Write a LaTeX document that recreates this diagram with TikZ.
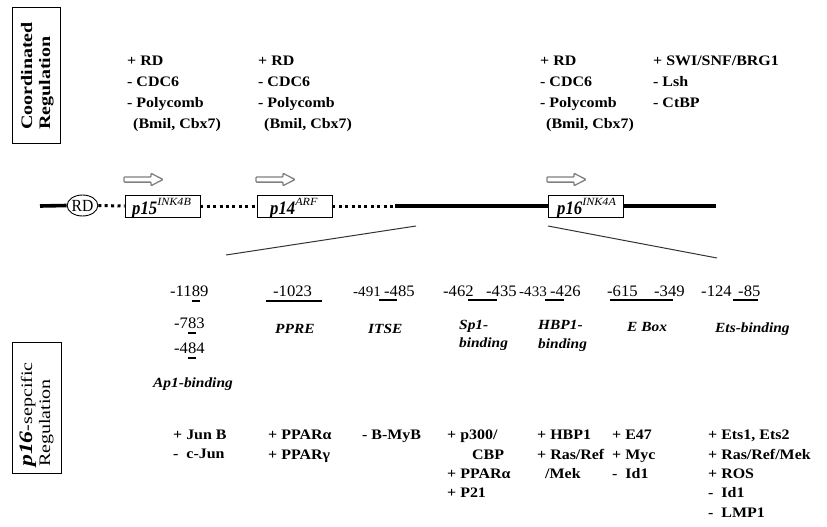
\documentclass[tikz,border=0pt]{standalone}
\usepackage{fontspec}
\setmainfont{Liberation Serif}
\newfontfamily\labfont[FakeStretch=1.1]{Liberation Serif}
\newfontfamily\numfont[FakeStretch=1.04]{Liberation Serif}
\newfontfamily\sidefont[FakeStretch=1.25]{Liberation Serif}
\newfontfamily\genefont[FakeStretch=0.88]{Liberation Serif}
\newfontfamily\rdfont[FakeStretch=0.92]{Liberation Serif}
\usetikzlibrary{shapes.geometric}

\tikzset{
  reglist/.style={inner sep=0, anchor=north west, align=left,
    font=\labfont\bfseries\fontsize{14.5}{21}\selectfont},
  factlist/.style={inner sep=0, anchor=north west, align=left,
    font=\labfont\bfseries\fontsize{14.5}{19.3}\selectfont},
  num/.style={inner sep=0, anchor=base west,
    font=\numfont\fontsize{16}{18}\selectfont},
  numsmall/.style={num, font=\numfont\fontsize{14.5}{18}\selectfont},
  site/.style={inner sep=0, anchor=base west,
    font=\labfont\bfseries\itshape\fontsize{14}{18}\selectfont},
  sitebar/.style={line width=2.2pt},
  sidebox/.style={draw, line width=1pt},
  sidetext/.style={inner sep=0, anchor=base west, rotate=90},
  gene/.style={draw, fill=white, line width=0.9pt, minimum width=75pt,
    minimum height=22pt, inner sep=0},
  genelabel/.style={inner sep=0, anchor=base west,
    font=\genefont\bfseries\itshape\fontsize{19}{20}\selectfont},
  strand/.style={line width=3.6pt},
  dotstrand/.style={line width=3pt, dash pattern=on 3pt off 3.4pt},
  zoomline/.style={line width=1pt, draw=black!80},
  tss/.style={draw=black!50, line width=1.3pt, rounded corners=0.8pt},
  tssarrow/.pic={\draw[tss] (0,-2.6) -- (27,-2.6) -- (27,-6.2) -- (39,0)
    -- (27,6.2) -- (27,2.6) -- (0,2.6) -- cycle;}
}
\newcommand\supfont{\labfont\mdseries\itshape\fontsize{11}{11}\selectfont}

\begin{document}
\begin{tikzpicture}[x=1pt,y=-1pt]
\useasboundingbox (0,0) rectangle (827,527);

% side captions
\node[sidebox, minimum width=48pt, minimum height=135pt, inner sep=0]
  (coordbox) at (36,75.5) {};
\node[sidetext, font=\sidefont\bfseries\fontsize{16}{16}\selectfont]
  (coordA) at (32,130) {Coordinated};
\node[sidetext, font=\sidefont\bfseries\fontsize{16}{16}\selectfont]
  (coordB) at (50,130) {Regulation};

\node[sidebox, minimum width=49pt, minimum height=131pt, inner sep=0]
  (specbox) at (36.5,407.5) {};
\node[sidetext, font=\sidefont\fontsize{16}{16}\selectfont]
  (specA) at (32,467) {{\bfseries\itshape\fontsize{19}{19}\selectfont p16}-sepcific};
\node[sidetext, font=\sidefont\fontsize{16}{16}\selectfont]
  (specB) at (50,467) {Regulation};

% coordinated regulators
\node[reglist] (co15) at (127,56) {+ RD\\- CDC6\\- Polycomb\\\hspace*{6pt}(Bmil, Cbx7)};
\node[reglist] (co14) at (258,56) {+ RD\\- CDC6\\- Polycomb\\\hspace*{6pt}(Bmil, Cbx7)};
\node[reglist] (co16) at (540,56) {+ RD\\- CDC6\\- Polycomb\\\hspace*{6pt}(Bmil, Cbx7)};
\node[reglist] (coch) at (653,56) {+ SWI/SNF/BRG1\\- Lsh\\- CtBP};

% locus
\coordinate (lstart) at (40,206);
\coordinate (ljoin) at (395,206);
\coordinate (lend) at (716,206);
\node[ellipse, draw, line width=0.9pt, minimum width=29pt, minimum height=21pt,
  inner sep=0, font=\rdfont\fontsize{17}{17}\selectfont] (rd) at (82.5,205.5) {RD};
\node[gene] (g15) at (162.5,206) {};
\node[gene] (g14) at (294.5,206) {};
\node[gene] (g16) at (585.5,206) {};

\draw[strand] (lstart) -- (rd.west);
\draw[dotstrand] (rd.east) -- (g15.west);
\draw[dotstrand] (g15.east) -- (g14.west);
\draw[dotstrand] (g14.east) -- (ljoin);
\draw[strand] (ljoin) -- (g16.west);
\draw[strand] (g16.east) -- (lend);

\node[genelabel] (l15) at (132,214) {p15\raisebox{8.5pt}{\supfont INK4B}};
\node[genelabel] (l14) at (270,214) {p14\raisebox{8.5pt}{\supfont ARF}};
\node[genelabel] (l16) at (557,214) {p16\raisebox{8.5pt}{\supfont INK4A}};

% transcription start arrows
\pic at (124,179.5) {tssarrow};
\pic at (256,179.5) {tssarrow};
\pic at (547,179.5) {tssarrow};

% zoom lines to the p16 promoter
\coordinate (zl1) at (226,255);
\coordinate (zl2) at (416,226);
\coordinate (zr1) at (548,226);
\coordinate (zr2) at (717,258);
\draw[zoomline] (zl1) -- (zl2);
\draw[zoomline] (zr1) -- (zr2);

% promoter elements: positions
\node[num] (n1189) at (170,296) {-1189};
\node[num] (n783) at (174,328) {-783};
\node[num] (n484) at (174,353) {-484};
\draw[sitebar] (192,301) -- (200,301);
\draw[sitebar] (188,333) -- (196,333);
\draw[sitebar] (188,358) -- (196,358);

\node[num] (n1023) at (273,296) {-1023};
\draw[sitebar] (266,301) -- (322,301);

\node[numsmall] (n491) at (353,296) {-491};
\node[num] (n485) at (384,296) {-485};
\draw[sitebar] (379,300) -- (397,300);

\node[num] (n462) at (443,296) {-462};
\node[num] (n435) at (486,296) {-435};
\draw[sitebar] (468,300) -- (497,300);

\node[numsmall] (n433) at (519,296) {-433};
\node[num] (n426) at (550,296) {-426};
\draw[sitebar] (545,300) -- (564,300);

\node[num] (n615) at (607,296) {-615};
\node[num] (n349) at (654,296) {-349};
\draw[sitebar] (610,300) -- (673,300);

\node[num] (n124) at (701,296) {-124};
\node[num] (n85) at (738,296) {-85};
\draw[sitebar] (733,300) -- (758,300);

% promoter elements: names
\node[site] (ap1) at (153,387) {Ap1-binding};
\node[site] (ppre) at (275,333) {PPRE};
\node[site] (itse) at (368,333) {ITSE};
\node[site] (sp1a) at (459,329) {Sp1-};
\node[site] (sp1b) at (459,347) {binding};
\node[site] (hbpa) at (538,329) {HBP1-};
\node[site] (hbpb) at (538,348) {binding};
\node[site] (ebox) at (627,331) {E Box};
\node[site] (ets) at (715,332) {Ets-binding};

% p16-specific factors
\node[factlist] (fap1) at (173,430) {+ Jun B\\-\ \ c-Jun};
\node[factlist] (fppre) at (268,430) {+ PPARα\\+ PPARγ};
\node[factlist] (fitse) at (362,430) {- B-MyB};
\node[factlist] (fsp1) at (447,430) {+ p300/\\\hspace*{25pt}CBP\\+ PPARα\\+ P21};
\node[factlist] (fhbp) at (537,430) {+ HBP1\\+ Ras/Ref\\\hspace*{8pt}/Mek};
\node[factlist] (febox) at (612,430) {+ E47\\+ Myc\\-\ \ Id1};
\node[factlist] (fets) at (708,430) {+ Ets1, Ets2\\+ Ras/Ref/Mek\\+ ROS\\-\ \ Id1\\-\ \ LMP1};
\end{tikzpicture}
\end{document}
